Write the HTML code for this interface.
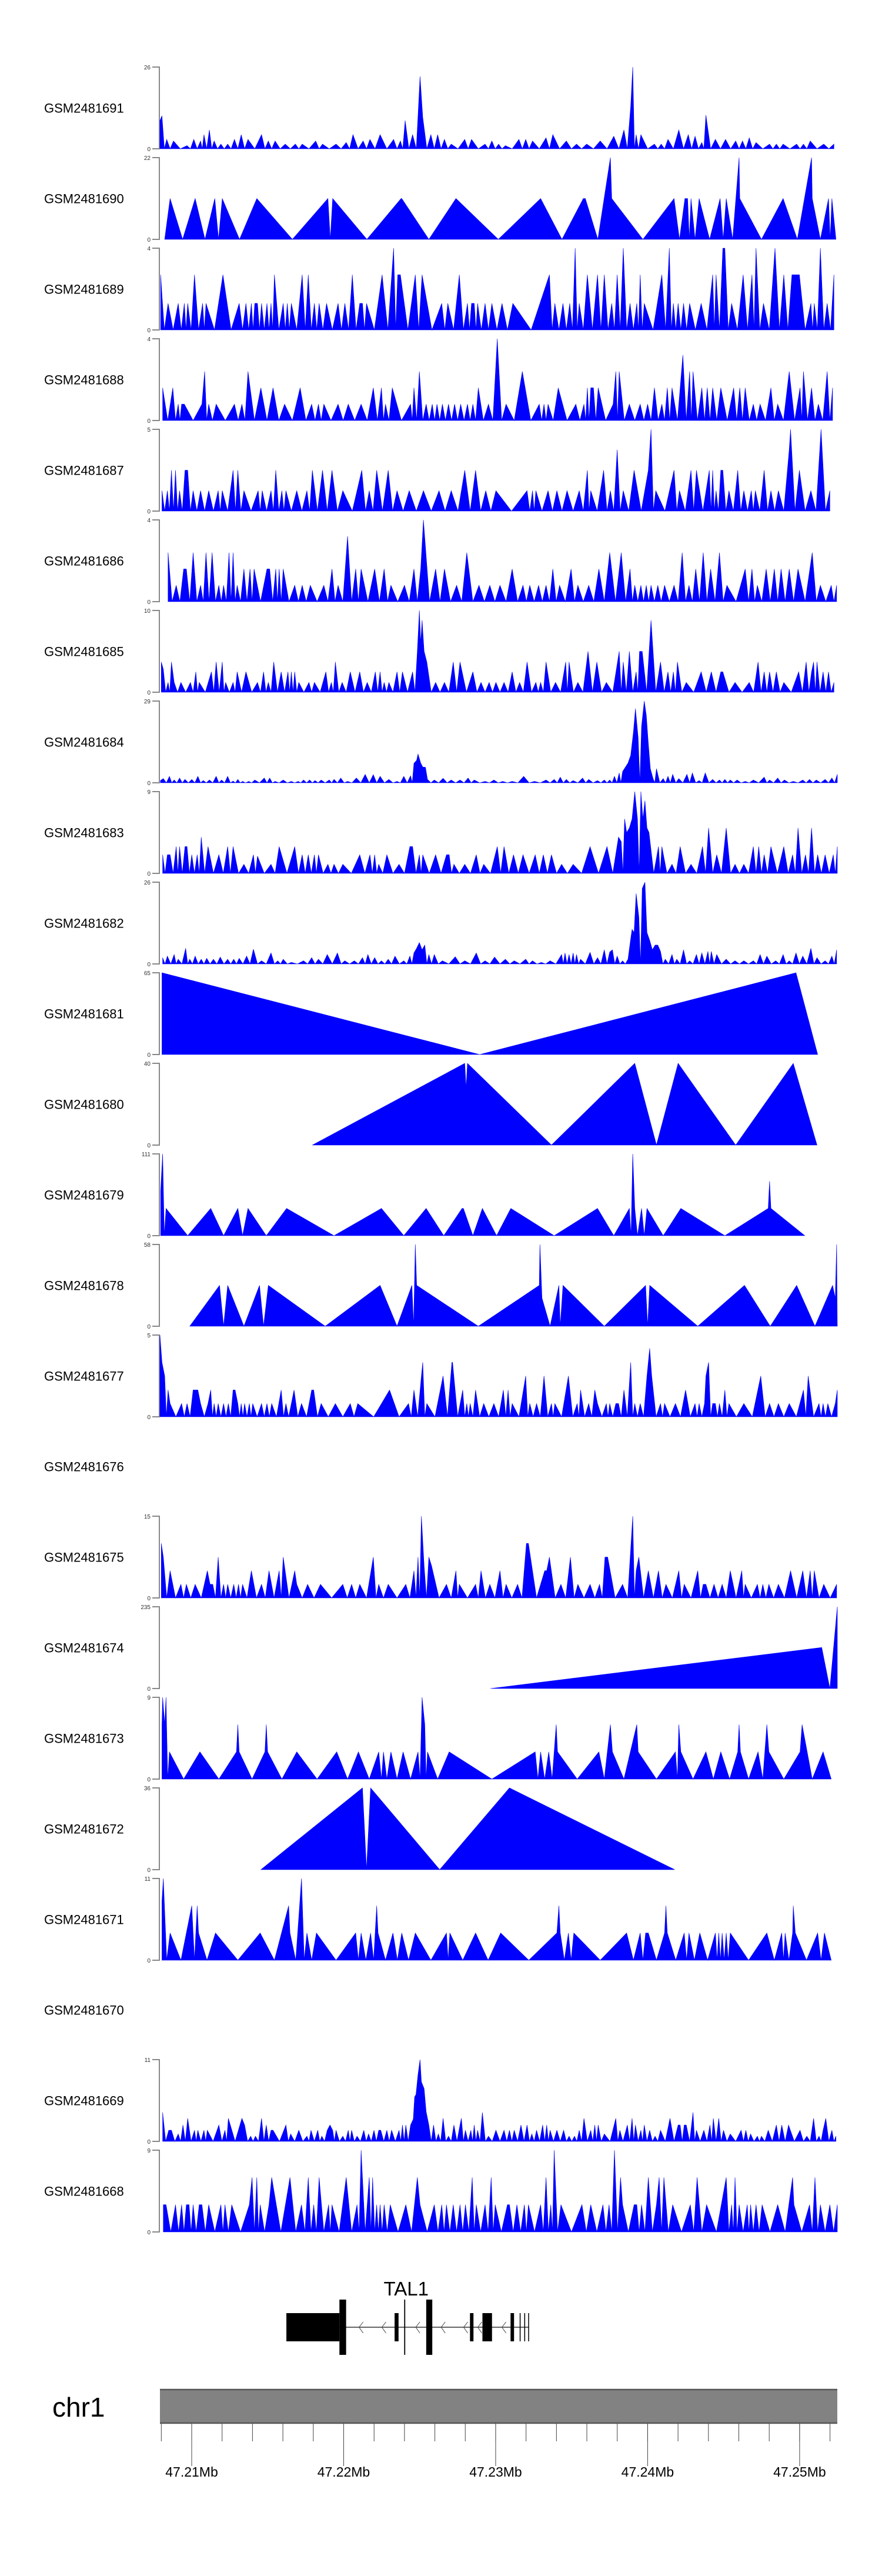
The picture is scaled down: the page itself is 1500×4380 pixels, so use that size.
<!DOCTYPE html>
<html><head><meta charset="utf-8"><title>Coverage tracks TAL1</title>
<style>
html,body{margin:0;padding:0;background:#fff;}
svg{display:block;font-family:"Liberation Sans",Arial,sans-serif;}
</style></head>
<body>
<svg id="fig" width="1500" height="4380" viewBox="0 0 1500 4380" xmlns="http://www.w3.org/2000/svg">
<g id="tracks"></g>
<g id="gene"></g>
<g id="ideo"></g>
</svg>
<script>
// ---------- data ----------
const trackNames = ["GSM2481691","GSM2481690","GSM2481689","GSM2481688","GSM2481687","GSM2481686","GSM2481685","GSM2481684","GSM2481683","GSM2481682","GSM2481681","GSM2481680","GSM2481679","GSM2481678","GSM2481677","GSM2481676","GSM2481675","GSM2481674","GSM2481673","GSM2481672","GSM2481671","GSM2481670","GSM2481669","GSM2481668"];
const trackMax = [26,22,4,4,5,4,10,29,9,26,65,40,111,58,5,null,15,235,9,36,11,null,11,9];
// coverage points: [position (% of window), value, ...]
const cov1691 = [0,9, 0.3,10.5, 1,3, 2,2.5, 4,1, 5,3, 6,2.5, 6.5,4.5, 7.3,6, 8,2.5, 9,1.5, 10,1.5, 11,3, 12,4.5, 13,3, 15,4.5, 16,2.5, 17,2.5, 18.5,1.5, 20,1.5, 21,1.5, 23,2.5, 24,1.5, 26,1.5, 27.5,2, 28.5,4.5, 30,2.5, 31,3, 32.5,4.5, 34.5,3, 35.5,2.5, 36.2,9, 37.3,4.5, 38.4,23, 38.8,10, 40,4.5, 41,4.5, 42,3, 43,1.5, 45,3, 46,3, 48,1.5, 49,2.5, 50,1.5, 51,1, 53,3, 54,3, 55,2.5, 57,3.5, 58,4.5, 60,2.5, 61.5,1.5, 63,1.5, 65,2.5, 67,4, 68.5,6, 69.5,13.5, 69.8,26, 70.3,4.5, 71,4.5, 73,1.5, 74,1.5, 75,3, 76.6,6, 78,4.5, 79,4, 80,2, 80.6,10.7, 82,3, 83.5,3, 85,2.5, 86,2.5, 87,3.5, 88,2, 90,1.5, 91,1.5, 92,1.5, 94,1.5, 95,1.5, 96,2.5, 98,1.5, 99.5,1.5];
const cov1690 = [0.7,0, 1.5,11, 5.2,11, 8.1,11, 9.2,11, 14.3,11, 24.8,11, 25.5,11, 35.6,11, 35.7,11, 43.7,11, 56.2,11, 62.5,11, 62.8,11, 66.5,22, 66.7,11, 75.9,11, 77.5,11, 77.9,11, 78.4,11, 79.6,11, 82.7,11, 83.6,11, 85.5,22, 85.6,11, 92.0,11, 96.2,22, 96.3,11, 98.7,11, 99.2,11, 99.8,0];
const cov1689 = [0.1,2.7, 1.2,1.3, 2.7,1.3, 3.6,1.3, 4.1,1.3, 5.1,2.7, 6.3,1.3, 6.8,1.3, 9.3,2.7, 11.7,1.3, 12.7,1.3, 13.5,1.3, 14.0,1.3, 14.4,1.3, 15.0,1.3, 15.8,1.3, 16.4,1.3, 16.9,2.7, 18.2,1.3, 18.8,1.3, 19.4,1.3, 21.0,2.7, 21.9,2.7, 22.8,1.3, 23.5,1.3, 24.6,1.3, 26.3,1.3, 27.3,1.3, 28.4,2.7, 29.5,1.3, 29.9,1.3, 30.5,1.3, 32.8,2.7, 34.5,4, 35.1,2.7, 35.5,2.7, 37.7,2.7, 38.7,2.7, 41.6,1.3, 42.5,1.3, 44.2,2.7, 45.4,1.3, 46.0,1.3, 46.4,1.3, 46.9,1.3, 48.0,1.3, 49.0,1.3, 50.5,1.3, 52.1,1.3, 57.5,2.7, 58.3,1.3, 59.5,1.3, 60.5,1.3, 61.3,4, 61.9,1.3, 63.1,2.7, 64.6,2.7, 65.6,2.7, 66.7,1.3, 67.5,2.7, 68.4,4, 69.4,1.3, 70.4,1.3, 70.9,2.7, 71.5,1.3, 74.1,2.7, 75.2,4, 75.8,1.3, 76.5,1.3, 77.3,1.3, 78.2,1.3, 79.9,1.3, 81.6,2.7, 82.1,2.7, 83.1,4, 83.4,4, 84.4,1.3, 86.1,2.7, 87.4,2.7, 88.0,4, 89.1,1.3, 90.8,4, 92.1,2.7, 93.3,2.7, 93.6,2.7, 94.0,2.7, 94.4,2.7, 96.1,1.3, 96.6,1.3, 97.5,4, 98.5,1.3, 99.5,2.7];
const cov1688 = [0.4,1.6, 1.9,1.6, 2.7,0.8, 3.2,0.8, 3.6,0.8, 6.2,0.8, 6.6,2.4, 7.2,0.8, 8.3,0.8, 11.0,0.8, 12.1,0.8, 13.0,2.4, 14.9,1.6, 16.7,1.6, 18.4,0.8, 20.7,1.6, 22.4,0.8, 23.4,0.8, 24.2,0.8, 26.3,0.8, 27.8,0.8, 29.7,0.8, 31.5,1.6, 32.7,1.6, 33.3,0.8, 34.3,1.6, 37.0,0.8, 37.5,1.6, 38.3,2.4, 39.3,0.8, 40.2,0.8, 40.9,0.8, 41.7,0.8, 42.6,0.8, 43.5,0.8, 44.4,0.8, 45.4,0.8, 46.2,0.8, 47.0,1.6, 48.5,0.8, 49.8,4, 51.1,0.8, 53.5,2.4, 56.0,0.8, 56.7,0.8, 57.3,0.8, 58.8,1.6, 61.4,0.8, 62.6,0.8, 63.1,1.6, 63.6,1.6, 64.0,1.6, 64.7,1.6, 66.9,0.8, 67.3,2.4, 67.8,2.4, 69.3,0.8, 70.9,0.8, 72.0,0.8, 73.0,1.6, 74.1,0.8, 74.9,1.6, 75.6,1.6, 77.2,3.2, 78.2,2.4, 78.7,2.4, 80.0,1.6, 80.8,1.6, 81.6,1.6, 82.8,1.6, 84.7,1.6, 85.6,1.6, 86.4,1.6, 87.6,0.8, 88.6,0.8, 90.2,1.6, 91.2,0.8, 92.9,2.4, 94.5,1.6, 95.0,2.4, 96.2,1.6, 97.2,0.8, 98.5,2.4, 99.3,1.6];
const cov1687 = [0.3,1.25, 1.1,1.25, 1.7,2.5, 2.3,2.5, 2.9,1.25, 3.7,2.5, 4.1,2.5, 4.9,1.25, 6.0,1.25, 7.2,1.25, 8.6,1.25, 9.2,1.25, 10.8,2.5, 11.5,2.5, 12.4,1.25, 14.5,1.25, 15.1,1.25, 16.4,1.25, 17.1,2.5, 18.0,1.25, 18.6,1.25, 20.2,1.25, 21.7,1.25, 22.5,2.5, 24.0,2.5, 25.4,2.5, 27.0,1.25, 29.8,2.5, 30.9,1.25, 32.0,2.5, 33.7,2.5, 35.0,1.25, 36.8,1.25, 38.9,1.25, 41.2,1.25, 43.0,1.25, 45.0,2.5, 46.6,2.5, 48.1,1.25, 49.6,1.25, 54.2,1.25, 55.0,1.25, 55.5,1.25, 57.3,1.25, 58.6,1.25, 60.1,1.25, 61.9,1.25, 63.1,2.5, 63.6,1.25, 65.5,2.5, 66.5,1.25, 67.5,3.75, 68.4,1.25, 70.0,2.5, 72.1,2.5, 72.5,5, 73.2,1.25, 75.9,2.5, 76.7,1.25, 78.4,2.5, 79.2,2.5, 81.1,2.5, 81.6,2.5, 82.1,1.25, 82.8,2.5, 83.1,2.5, 84.0,1.25, 85.3,2.5, 86.2,1.25, 87.3,1.25, 87.9,1.25, 89.2,2.5, 90.2,1.25, 91.3,1.25, 92.9,3.75, 93.1,5, 94.4,2.5, 96.1,1.25, 97.6,5, 98.9,1.25];
const cov1686 = [1.2,2.4, 2.4,0.8, 3.5,1.6, 3.9,1.6, 4.9,2.4, 6.0,0.8, 6.8,2.4, 7.7,2.4, 8.7,0.8, 9.4,0.8, 10.2,2.4, 10.8,2.4, 11.4,0.8, 12.4,1.6, 13.3,1.6, 13.9,1.6, 15.8,1.6, 16.2,1.6, 17.1,1.6, 17.6,1.6, 18.2,1.6, 19.9,0.8, 21.0,0.8, 22.2,0.8, 24.2,0.8, 25.4,1.6, 26.3,0.8, 27.7,3.2, 28.9,1.6, 29.7,1.6, 31.7,1.6, 33.1,1.6, 34.1,0.8, 36.1,0.8, 37.5,1.6, 38.5,1.6, 38.9,4, 40.7,1.6, 42.0,1.6, 43.8,0.8, 45.3,2.4, 47.1,0.8, 48.7,0.8, 50.2,0.8, 52.0,1.6, 53.6,0.8, 54.6,0.8, 55.9,0.8, 57.0,0.8, 58.0,1.6, 59.0,0.8, 60.7,1.6, 61.7,0.8, 63.3,0.8, 64.8,1.6, 66.4,2.4, 68.1,2.4, 69.4,1.6, 70.1,0.8, 71.0,0.8, 71.8,0.8, 72.5,0.8, 73.5,0.8, 74.5,0.8, 75.9,0.8, 77.1,2.4, 78.1,0.8, 79.1,1.6, 80.2,2.4, 81.3,1.6, 82.6,2.4, 83.7,0.8, 86.4,1.6, 87.4,1.6, 88.2,0.8, 89.5,1.6, 90.7,1.6, 91.7,1.6, 92.9,1.6, 94.2,1.6, 96.3,2.4, 97.5,0.8, 99.1,0.8, 99.9,0.8];
const cov1685 = [0.2,3.7, 0.5,2.8, 1.2,1.2, 1.7,3.7, 2.1,1.2, 3.1,1.2, 4.5,1.2, 5.3,2.5, 5.8,1.2, 7.6,2.5, 8.3,3.7, 9.2,3.7, 9.7,1.2, 10.8,1.2, 11.4,2.5, 12.7,2.5, 14.4,1.2, 15.3,2.5, 16.0,1.2, 16.8,3.7, 17.9,2.5, 18.9,2.5, 19.4,2.5, 19.9,2.5, 20.5,1.2, 22.0,1.2, 22.8,1.2, 24.5,2.5, 25.3,1.2, 25.9,3.7, 26.9,1.2, 28.1,2.5, 29.5,2.5, 30.6,1.2, 31.8,2.5, 32.5,2.5, 33.1,1.2, 33.8,1.2, 35.0,2.5, 35.8,2.5, 37.3,2.5, 38.0,5, 38.3,10, 38.5,6, 38.7,8.8, 39.0,5, 39.4,3.7, 40.7,1.2, 42.0,1.2, 43.3,3.7, 44.3,3.7, 46.2,2.5, 47.4,1.2, 48.6,1.2, 49.6,1.2, 50.8,1.2, 52.0,2.5, 53.1,1.2, 54.2,3.7, 55.5,1.2, 56.2,1.2, 57.0,3.7, 58.4,1.2, 59.9,3.7, 60.4,3.7, 61.7,1.2, 63.2,5, 64.5,3.7, 65.9,1.2, 67.8,5, 68.4,3.7, 69.3,5, 70.3,2.5, 70.8,5, 71.2,5, 72.5,8.8, 73.9,3.7, 75.0,2.5, 75.8,2.5, 76.4,3.7, 77.7,1.2, 79.9,2.5, 81.4,2.5, 82.8,2.5, 83.1,2.5, 84.9,1.2, 87.0,1.2, 88.3,3.7, 89.2,2.5, 90.0,2.5, 91.0,2.5, 92.1,1.2, 94.3,2.5, 95.4,3.7, 96.2,2.5, 96.5,3.7, 97.0,3.7, 97.9,2.5, 98.7,2.5, 99.5,1.2];
const cov1684 = [0.07,0.8, 0.5,1.5, 1.4,2.3, 2.1,1, 2.9,1.7, 3.7,1.2, 4.7,1.2, 5.6,2.3, 6.4,0.8, 7.3,1, 8.3,2.3, 9.1,1, 10.0,2.3, 10.8,0.6, 11.5,1.2, 12.2,0.5, 13.1,0.5, 14.0,1, 15.4,1.7, 16.2,1.7, 17.0,0.5, 18.2,1, 19.4,0.5, 20.4,0.5, 21.2,1, 22.1,1, 22.9,0.8, 23.8,1, 25.0,1, 25.7,1.2, 26.7,1.7, 27.7,0.5, 29.0,1.7, 30.3,3, 31.5,2.9, 32.5,2.3, 33.8,1.2, 35.0,0.5, 36.0,2.3, 37.0,2.5, 37.5,6.9, 37.9,8, 38.1,10.2, 38.5,7, 38.8,5.6, 39.2,5.5, 39.5,1.2, 40.5,1, 41.8,1.6, 43.0,1, 44.3,1, 45.5,1.7, 46.4,1, 48.0,0.5, 49.3,1, 50.6,0.5, 52.0,0.5, 53.7,2.3, 55.3,0.5, 57.0,1, 58.2,1.2, 59.1,2, 60.0,1.2, 61.0,0.8, 62.4,1.7, 63.3,1.2, 64.6,0.8, 65.6,1, 66.4,1, 67.1,2.3, 67.8,3.5, 68.3,4, 68.7,5.5, 69.1,7, 69.5,9.7, 69.9,18, 70.2,26.3, 70.6,16, 71.1,20, 71.5,29, 71.8,24, 72.1,14, 72.4,5, 72.8,1.5, 73.3,5, 74.3,1.5, 75.0,2.3, 75.7,3, 76.6,1.5, 77.8,3, 78.6,3.5, 79.6,0.8, 80.5,3.5, 81.6,1.2, 82.6,1, 83.4,1.2, 84.2,1, 85.2,1, 86.4,0.5, 87.6,1, 89.2,2, 90.0,1, 91.2,1.7, 92.2,1, 93.5,0.5, 94.9,1, 95.9,1.2, 96.9,1, 98.2,1.2, 99.2,1.7, 100,3];
const cov1683 = [0.4,2.05, 1.1,2.05, 1.5,2.05, 2.4,2.95, 2.9,2.95, 3.7,2.95, 4.0,2.95, 4.7,2.05, 5.5,2.05, 6.1,4, 7.1,2.95, 8.7,2.05, 10.0,2.95, 10.8,2.95, 12.4,1, 13.8,2.05, 14.4,1.9, 16.4,1, 17.6,2.95, 19.9,2.95, 21.0,2.05, 21.9,2.05, 22.8,2.05, 23.4,2.05, 24.8,1, 25.7,1, 27.0,1, 29.5,2.05, 31.0,2.05, 31.7,2.05, 32.3,1, 33.5,2.05, 35.3,1, 36.9,2.95, 37.3,2.95, 38.3,2.05, 38.8,2.05, 40.7,2.05, 42.3,2.05, 42.7,2.05, 43.4,1, 45.0,1, 46.7,2.05, 47.8,1, 49.8,2.95, 50.8,2.95, 52.2,2.05, 53.6,2.05, 55.4,2.05, 56.6,2.05, 57.8,2.05, 59.3,1, 61.0,1, 63.5,2.95, 66.0,2.95, 67.7,4, 68.1,3.5, 68.6,6, 68.9,4.5, 69.3,5, 69.7,6, 70.1,9, 70.5,6, 71.0,9, 71.3,6, 71.6,8, 71.9,5, 72.2,4.5, 73.6,2.95, 74.1,2.95, 75.6,1, 76.8,2.95, 78.4,1, 80.1,2.95, 81.0,5, 82.2,2.05, 83.6,5, 84.9,1, 86.2,1, 87.6,2.95, 88.4,2.95, 89.2,2.05, 90.2,2.95, 92.1,2.95, 93.4,2.05, 94.2,5, 95.3,2.05, 96.2,5, 97.1,2.05, 98.2,2.05, 99.4,2.05, 100,2.95];
const cov1682 = [0.4,2, 1.1,2.5, 2.1,3, 2.7,1.5, 3.8,5, 4.4,1.5, 5.2,2.5, 6.1,1.5, 6.9,1.8, 7.9,1.5, 8.9,2.2, 10.0,1.5, 10.9,1.5, 11.7,1.8, 12.8,2.5, 13.8,4.7, 15.0,1, 16.4,3.5, 17.4,1, 18.2,1.5, 19.4,0.5, 21.2,1, 22.4,2, 23.4,1.5, 24.7,3, 26.2,3.5, 27.3,1, 28.7,1, 29.9,2, 30.7,3, 31.7,2, 32.7,1, 33.7,1.5, 34.7,2.5, 36.0,1, 36.9,2.5, 37.5,3.5, 37.9,5, 38.3,6.8, 38.7,4.5, 39.1,6, 39.7,3, 40.5,3, 41.7,1, 43.6,2.3, 45.0,1, 46.7,3.5, 48.0,1, 49.4,2.2, 51.0,1.5, 52.3,1, 54.0,1.5, 55.0,1, 56.3,0.5, 57.6,1, 59.3,3, 59.8,3.5, 60.4,3, 61.0,3.5, 61.5,3, 62.1,1.5, 63.5,3.7, 64.6,2, 65.6,4.5, 66.4,3.8, 66.8,4.5, 67.5,2.5, 68.3,1, 69.1,1.5, 69.5,8, 69.7,11, 70.0,10, 70.3,22.4, 70.7,15, 71.2,24, 71.6,26, 71.9,10, 72.3,7.5, 72.7,4.5, 73.1,6, 73.5,6, 73.9,4, 74.6,1.5, 75.6,3, 76.3,1.5, 77.3,4.5, 78.2,1, 79.2,3, 80.0,3.5, 80.9,4, 81.4,4, 82.2,3, 83.6,1.5, 84.9,1, 86.2,1, 87.6,1, 88.6,3, 89.6,2.5, 90.9,1, 92.0,3, 92.9,1, 93.9,3.5, 94.9,2.5, 96.1,5, 97.0,2, 98.2,1, 99.2,2.5, 99.9,4.5];
const cov1681 = [0.3,65, 47.2,0, 93.9,65, 97.1,0];
const cov1680 = [22.5,0, 45.0,40, 45.2,28, 45.4,40, 57.8,0, 70.1,40, 73.3,0, 76.5,40, 85.0,0, 93.5,40, 97.0,0];
const cov1679 = [0.1,60, 0.4,111, 0.9,37, 4.1,0, 7.5,37, 9.4,0, 11.5,37, 12.2,0, 13.0,37, 15.7,0, 18.7,37, 25.7,0, 32.7,37, 36.0,0, 39.3,37, 41.9,0, 44.6,37, 44.8,37, 46.2,0, 47.6,37, 49.7,0, 51.8,37, 58.2,0, 64.6,37, 67.0,0, 69.3,37, 69.8,111, 70.1,37, 70.5,0, 71.1,37, 71.5,0, 71.9,37, 74.3,0, 76.9,37, 83.4,0, 89.8,37, 90.0,74, 90.2,37, 95.2,0];
const cov1678 = [4.4,0, 8.8,29, 9.4,0, 10.0,29, 12.4,0, 14.7,29, 15.3,0, 16.0,29, 24.4,0, 32.5,29, 35.0,0, 37.2,29, 37.7,58, 37.9,29, 47.0,0, 56.0,29, 56.1,58, 56.4,20, 57.6,0, 58.9,29, 59.1,0, 59.5,29, 65.6,0, 71.7,29, 72.0,0, 72.3,29, 79.4,0, 86.3,29, 90.1,0, 94.0,29, 96.7,0, 99.3,29, 99.7,20, 99.9,58, 100,0];
const cov1677 = [0,5, 0.3,3.33, 0.7,2.5, 1.2,1.64, 1.5,0.81, 3.2,0.81, 4.0,0.81, 4.9,1.64, 5.3,1.64, 5.6,1.64, 6.0,0.81, 7.1,0.81, 7.5,1.64, 8.0,0.81, 8.6,0.81, 9.4,0.81, 10.1,0.81, 10.8,1.64, 11.1,1.64, 11.5,0.81, 12.0,0.81, 12.5,0.81, 13.2,0.81, 13.7,0.81, 15.0,0.81, 15.8,0.81, 16.5,0.81, 17.9,1.64, 18.6,0.81, 19.4,0.81, 19.8,1.64, 20.9,0.81, 22.4,1.64, 22.7,1.64, 23.8,0.81, 25.9,0.81, 28.1,0.81, 29.2,0.81, 33.9,1.64, 36.7,0.81, 37.5,1.64, 38.6,2.5, 38.8,3.33, 39.4,0.81, 41.8,2.5, 43.1,3.33, 43.2,3.33, 44.7,1.64, 45.3,0.81, 45.8,0.81, 46.6,1.64, 47.8,0.81, 49.3,0.81, 50.7,1.64, 51.4,1.64, 52.0,0.81, 54.0,2.5, 54.6,0.81, 55.6,0.81, 56.7,2.5, 57.8,0.81, 58.3,0.81, 60.3,2.5, 61.6,0.81, 62.1,1.64, 63.3,0.81, 64.2,1.64, 64.6,0.81, 65.9,0.81, 66.4,0.81, 67.3,0.81, 67.7,0.81, 68.5,1.64, 69.5,3.33, 70.1,0.81, 70.9,0.81, 71.9,2.5, 72.3,4.19, 72.6,2.5, 73.9,0.81, 74.5,0.81, 76.1,0.81, 77.6,1.64, 79.0,0.81, 79.6,0.81, 80.4,0.81, 80.6,2.5, 81.0,3.33, 81.6,0.81, 82.0,0.81, 82.6,0.81, 83.4,1.64, 84.0,0.81, 86.2,0.81, 88.7,2.5, 90.0,0.81, 91.3,0.81, 92.9,0.81, 95.0,1.64, 95.7,2.5, 97.3,0.81, 97.9,0.81, 98.6,0.81, 99.7,0.81, 100,1.64];
const cov1675 = [0.2,10, 0.5,7.5, 1.5,5, 3.1,2.5, 3.9,2.5, 5.2,2.5, 7.0,5, 7.4,2.5, 7.8,2.5, 8.6,7.5, 9.4,2.5, 10.0,2.5, 10.9,2.5, 11.6,2.5, 12.2,2.5, 13.5,5, 15.0,2.5, 16.1,5, 17.6,5, 18.2,7.5, 19.9,5, 20.2,2.5, 21.8,2.5, 23.7,2.5, 27.0,2.5, 28.3,2.5, 29.5,2.5, 31.5,7.5, 32.3,2.5, 33.7,2.5, 36.3,2.5, 37.5,5, 38.1,7.5, 38.6,15, 39.0,5.9, 39.7,7.5, 40.1,5.9, 42.3,2.5, 43.7,5, 44.2,2.5, 46.6,2.5, 47.4,5, 48.7,2.5, 50.2,5, 51.1,2.5, 52.8,2.5, 54.1,10, 54.4,10, 56.8,5, 57.1,5, 57.5,7.5, 59.2,2.5, 60.6,7.5, 61.7,2.5, 63.5,2.5, 64.9,2.5, 65.7,7.5, 66.1,7.5, 68.3,2.5, 69.8,15, 70.3,5, 70.7,7.5, 72.1,5, 73.6,5, 74.7,2.5, 76.6,5, 77.4,2.5, 79.4,5, 80.2,2.5, 80.6,2.5, 81.8,2.5, 83.0,2.5, 84.2,5, 85.9,5, 86.4,2.5, 88.2,2.5, 89.0,2.5, 89.9,2.5, 91.3,2.5, 93.1,5, 94.9,5, 96.0,5, 96.6,5, 98.0,2.5, 99.9,2.5];
const cov1674 = [48.8,0, 97.7,118, 98.9,0, 100,235];
const cov1673 = [0.3,6, 0.4,9, 0.7,6, 0.9,9, 1.4,3, 3.5,0, 5.9,3, 8.7,0, 11.3,3, 11.5,6, 11.7,3, 13.6,0, 15.5,3, 15.7,6, 15.9,3, 18.0,0, 20.2,3, 23.2,0, 26.1,3, 27.7,0, 29.3,3, 30.9,0, 32.3,3, 32.7,0, 33.0,3, 33.5,0, 34.1,3, 35.0,0, 35.9,3, 37.0,0, 38.1,3, 38.7,9, 39.1,6, 39.3,0, 39.5,3, 41.0,0, 42.7,3, 49.0,0, 55.4,3, 55.8,0, 56.2,3, 56.8,0, 57.4,3, 57.9,0, 58.5,6, 58.7,3, 61.6,0, 64.8,3, 65.6,0, 66.5,6, 66.8,3, 68.5,0, 70.4,6, 70.6,3, 73.3,0, 76.1,3, 76.4,0, 76.6,6, 76.9,3, 78.7,0, 80.6,3, 81.7,0, 82.8,3, 84.1,0, 85.3,3, 85.5,6, 85.7,3, 86.9,0, 88.3,3, 89.0,0, 89.6,6, 89.9,3, 92.1,0, 94.5,3, 94.8,6, 96.3,0, 97.9,3, 99.1,0];
const cov1672 = [14.9,0, 29.9,36, 30.5,0, 31.1,36, 41.3,0, 51.6,36, 76.0,0];
const cov1671 = [0.3,8, 0.5,11, 1.5,3.67, 4.7,7.33, 5.5,7.33, 5.7,3.67, 8.2,3.67, 14.8,3.67, 19.0,7.33, 19.2,3.67, 20.9,11, 21.7,3.67, 23.1,3.67, 28.9,3.67, 29.7,3.67, 31.1,3.67, 32.0,7.33, 32.2,3.67, 34.4,3.67, 35.7,3.67, 37.7,3.67, 42.3,3.67, 42.8,3.67, 46.6,3.67, 50.3,3.67, 58.6,3.67, 58.9,7.33, 59.1,3.67, 60.3,3.67, 61.1,3.67, 68.9,3.67, 70.9,3.67, 71.7,3.67, 72.1,3.67, 74.5,3.67, 74.7,7.33, 74.9,3.67, 77.4,3.67, 78.1,3.67, 79.7,3.67, 82.0,3.67, 82.5,3.67, 83.0,3.67, 83.6,3.67, 84.2,3.67, 89.6,3.67, 91.8,3.67, 92.3,3.67, 93.4,3.67, 93.5,7.33, 93.8,3.67, 97.1,3.67, 98.1,3.67, 99.1,0];
const cov1669 = [0.4,3.9, 1.3,1.5, 1.7,1.5, 2.7,1, 3.4,2.2, 4.1,3.1, 5.1,1.5, 5.6,1.5, 6.5,1.5, 7.0,1.5, 8.7,2.2, 9.6,1.5, 10.1,3.1, 12.1,3.1, 12.5,2.2, 13.4,0.7, 14.1,0.7, 15.0,3.1, 15.7,2.2, 16.4,1.5, 16.7,1.5, 18.6,2.2, 19.3,1, 20.5,1.5, 21.7,0.7, 22.3,1.5, 23.3,1.5, 23.9,0.7, 24.7,1.5, 25.1,2.2, 25.5,1.5, 26.0,1.5, 27.0,0.7, 27.8,1.5, 28.3,1.5, 29.1,0.7, 30.1,1.5, 30.8,1, 31.6,1.5, 32.3,1.5, 32.6,1.5, 33.5,1.5, 34.2,1.5, 35.3,1.5, 35.8,2.2, 36.3,2.2, 37.0,2.2, 37.4,3, 37.6,6, 37.8,6.3, 38.1,9, 38.4,11, 38.6,8, 39.0,7.1, 39.3,4, 39.7,2.2, 40.4,2.2, 41.1,1, 41.8,3.1, 42.6,0.7, 43.4,2.2, 44.3,2.2, 44.5,3.1, 45.1,1.5, 45.9,1.5, 46.4,2.2, 46.9,1.5, 47.6,3.9, 48.5,0.7, 49.6,1.5, 50.8,1.5, 51.6,1.5, 52.3,1.5, 53.3,2.2, 54.2,2.2, 54.9,1, 55.6,1.5, 56.5,2.2, 57.1,2.2, 57.6,1.5, 58.6,1.5, 59.6,1.5, 60.4,0.7, 61.2,0.7, 61.9,1.5, 62.6,3.1, 63.6,1.5, 64.2,2.2, 64.7,2.2, 65.6,1, 67.3,3.1, 67.9,1.5, 68.8,1.5, 69.0,2.2, 69.7,3.1, 70.2,2.2, 71.0,1.5, 71.5,2.2, 72.3,1.5, 73.1,0.7, 73.9,1.5, 75.3,3.1, 76.5,2.2, 76.8,2.2, 77.4,2.2, 77.7,2.2, 78.7,3.9, 79.2,1.5, 80.3,1.5, 81.2,2.2, 81.7,3.1, 82.5,3.1, 83.2,1.5, 84.2,1, 85.8,1.5, 86.5,1.5, 87.2,1, 88.2,0.7, 88.8,0.7, 89.8,1.5, 91.0,2.2, 91.8,2.2, 92.8,2.2, 94.5,1.5, 95.5,0.7, 96.5,3.1, 97.3,0.7, 97.9,1.5, 98.3,3.1, 99.2,1.5, 99.8,0.7];
const cov1668 = [0.5,3, 0.9,3, 2.3,3, 3.2,3, 3.9,3, 4.3,3, 4.9,3, 5.8,3, 6.2,3, 7.2,3, 9.0,3, 9.6,3, 10.6,3, 13.2,3, 13.6,6, 14.3,6, 14.8,3, 16.1,3, 16.5,6, 19.2,6, 20.9,3, 21.9,6, 22.7,3, 23.5,6, 24.9,3, 25.4,3, 27.5,6, 29.1,3, 29.7,9, 30.9,6, 31.4,6, 32.0,3, 32.5,3, 33.1,3, 34.0,3, 36.3,3, 38.0,6, 38.4,3, 40.5,3, 41.6,3, 42.3,3, 43.3,3, 44.3,3, 45.1,3, 46.1,6, 46.7,3, 48.0,3, 48.9,6, 49.5,3, 51.3,3, 51.6,3, 52.7,3, 53.8,3, 54.4,3, 56.2,3, 57.0,6, 57.7,3, 58.2,9, 59.2,3, 62.3,3, 63.6,3, 65.4,3, 66.3,3, 67.1,9, 68.0,6, 68.3,3, 70.0,3, 70.4,3, 71.1,3, 72.1,6, 73.3,3, 73.7,6, 74.4,6, 75.7,3, 78.3,3, 79.3,6, 80.7,3, 83.6,6, 84.4,3, 84.9,6, 85.5,3, 86.7,3, 87.2,3, 88.0,3, 88.9,3, 91.2,3, 93.4,6, 93.6,3, 95.9,3, 96.7,6, 97.5,3, 98.9,3, 100,3];
const trackData = [cov1691,cov1690,cov1689,cov1688,cov1687,cov1686,cov1685,cov1684,cov1683,cov1682,cov1681,cov1680,cov1679,cov1678,cov1677,null,cov1675,cov1674,cov1673,cov1672,cov1671,null,cov1669,cov1668];
// genomic axis
const axisTicksMb = [47.208,47.21,47.212,47.214,47.216,47.218,47.22,47.222,47.224,47.226,47.228,47.23,47.232,47.234,47.236,47.238,47.24,47.242,47.244,47.246,47.248,47.25,47.252];
const axisMajorMb = [47.21,47.22,47.23,47.24,47.25];
const axisMajorLabels = ["47.21Mb","47.22Mb","47.23Mb","47.24Mb","47.25Mb"];
// TAL1 exons (start Mb, end Mb, height class: 0 thin, 1 tall)
const exonStart = [47.21623,47.21972,47.22335,47.22398,47.22543,47.22831,47.22913,47.23098,47.23158,47.23188,47.23214];
const exonEnd   = [47.21972,47.22016,47.22361,47.22405,47.22583,47.22854,47.22976,47.23121,47.23164,47.23194,47.23219];
const exonTall  = [0,1,0,1,1,0,0,0,0,0,0];
const arrowMb = [47.22109,47.22259,47.22482,47.22649,47.22797,47.2289,47.23049];

// ---------- geometry ----------
const NS = "http://www.w3.org/2000/svg";
const PLOT_L = 272, PLOT_R = 1424, TOP0 = 114, PITCH = 154, TH = 139;
const MB0 = 47.20791, MB1 = 47.25248;
function xPct(p){ return PLOT_L + p/100*(PLOT_R-PLOT_L); }
function xMb(m){ return PLOT_L + (m-MB0)/(MB1-MB0)*(PLOT_R-PLOT_L); }
function el(tag, attrs, parent){ const e=document.createElementNS(NS,tag); for(const k in attrs) e.setAttribute(k,attrs[k]); parent.appendChild(e); return e; }

const tracksG = document.getElementById('tracks');
trackNames.forEach((name, i) => {
  const top = TOP0 + i*PITCH, bot = top + TH;
  const g = el('g', {}, tracksG);
  
  
  const lab = el('text', {x:75, y:top+TH/2+8, 'font-size':22, fill:'#000'}, g);
  
  
  lab.textContent = name;
  const data = trackData[i], mx = trackMax[i];
  if (!data) return;
  const ax = el('path', {d:`M259 ${top}H271V${bot}H259`, fill:'none', stroke:'#888', 'stroke-width':2}, g);
  
  
  const t1 = el('text', {x:256, y:top+4, 'font-size':10, fill:'#333', 'text-anchor':'end'}, g);
  
  
  t1.textContent = mx;
  const t0 = el('text', {x:256, y:bot+4, 'font-size':10, fill:'#333', 'text-anchor':'end'}, g);
  
  
  t0.textContent = '0';
  const yv = v => bot - Math.min(v, mx)/mx*TH;
  let d = `M${xPct(data[0]).toFixed(2)} ${bot}`;
  for (let k=0; k<data.length; k+=2) {
    const p = data[k], v = data[k+1];
    if (k>0) {
      const pp = data[k-2], pv = data[k-1];
      if (pv>0 && v>0 && p-pp>0.45) d += `L${xPct((p+pp)/2).toFixed(2)} ${bot}`;
    }
    d += `L${xPct(p).toFixed(2)} ${yv(v).toFixed(2)}`;
  }
  d += `L${xPct(data[data.length-2]).toFixed(2)} ${bot}Z`;
  const area = el('path', {d, fill:'#0000ff', stroke:'#0000ff', 'stroke-width':0.6, 'stroke-linejoin':'miter'}, g);
  
  
});

// ---------- gene model ----------
const geneG = document.getElementById('gene');
const gl = el('text', {x:xMb(47.22411), y:3903, 'font-size':33, 'text-anchor':'middle', fill:'#000'}, geneG);


gl.textContent = 'TAL1';
const intron = el('line', {x1:xMb(exonStart[0]), x2:xMb(exonEnd[exonEnd.length-1]), y1:3957, y2:3957, stroke:'#333', 'stroke-width':1.5}, geneG);


arrowMb.forEach(m => {
  const x = xMb(m);
  const a = el('path', {d:`M${x+5} 3948L${x-2} 3957L${x+5} 3967`, fill:'none', stroke:'#444', 'stroke-width':1}, geneG);
  
  
});
exonStart.forEach((s, k) => {
  const x0 = xMb(s), x1 = Math.max(xMb(exonEnd[k]), x0+1.5);
  const y0 = exonTall[k] ? 3910 : 3933, y1 = exonTall[k] ? 4004 : 3981;
  const r = el('rect', {x:x0, y:y0, width:x1-x0, height:y1-y0, fill:'#000'}, geneG);
  
  
});

// ---------- chromosome axis ----------
const idG = document.getElementById('ideo');
const chrL = el('text', {x:89, y:4109, 'font-size':46, fill:'#000'}, idG);


chrL.textContent = 'chr1';
const bar = el('rect', {x:PLOT_L, y:4062, width:PLOT_R-PLOT_L, height:59, fill:'#828282', stroke:'none'}, idG);


const bt = el('path', {d:`M${PLOT_L} 4063H${PLOT_R}M${PLOT_L} 4120H${PLOT_R}`, stroke:'#555', 'stroke-width':2.5, fill:'none'}, idG);


axisTicksMb.forEach(m => {
  const tk = el('line', {x1:xMb(m), x2:xMb(m), y1:4121, y2:4151, stroke:'#444', 'stroke-width':1}, idG);
  
  
});
axisMajorMb.forEach((m, k) => {
  const tk = el('line', {x1:xMb(m), x2:xMb(m), y1:4121, y2:4193, stroke:'#444', 'stroke-width':1}, idG);
  
  
  const tl = el('text', {x:xMb(m), y:4211, 'font-size':23, 'text-anchor':'middle', fill:'#000'}, idG);
  
  
  tl.textContent = axisMajorLabels[k];
});
</script>
</body></html>
